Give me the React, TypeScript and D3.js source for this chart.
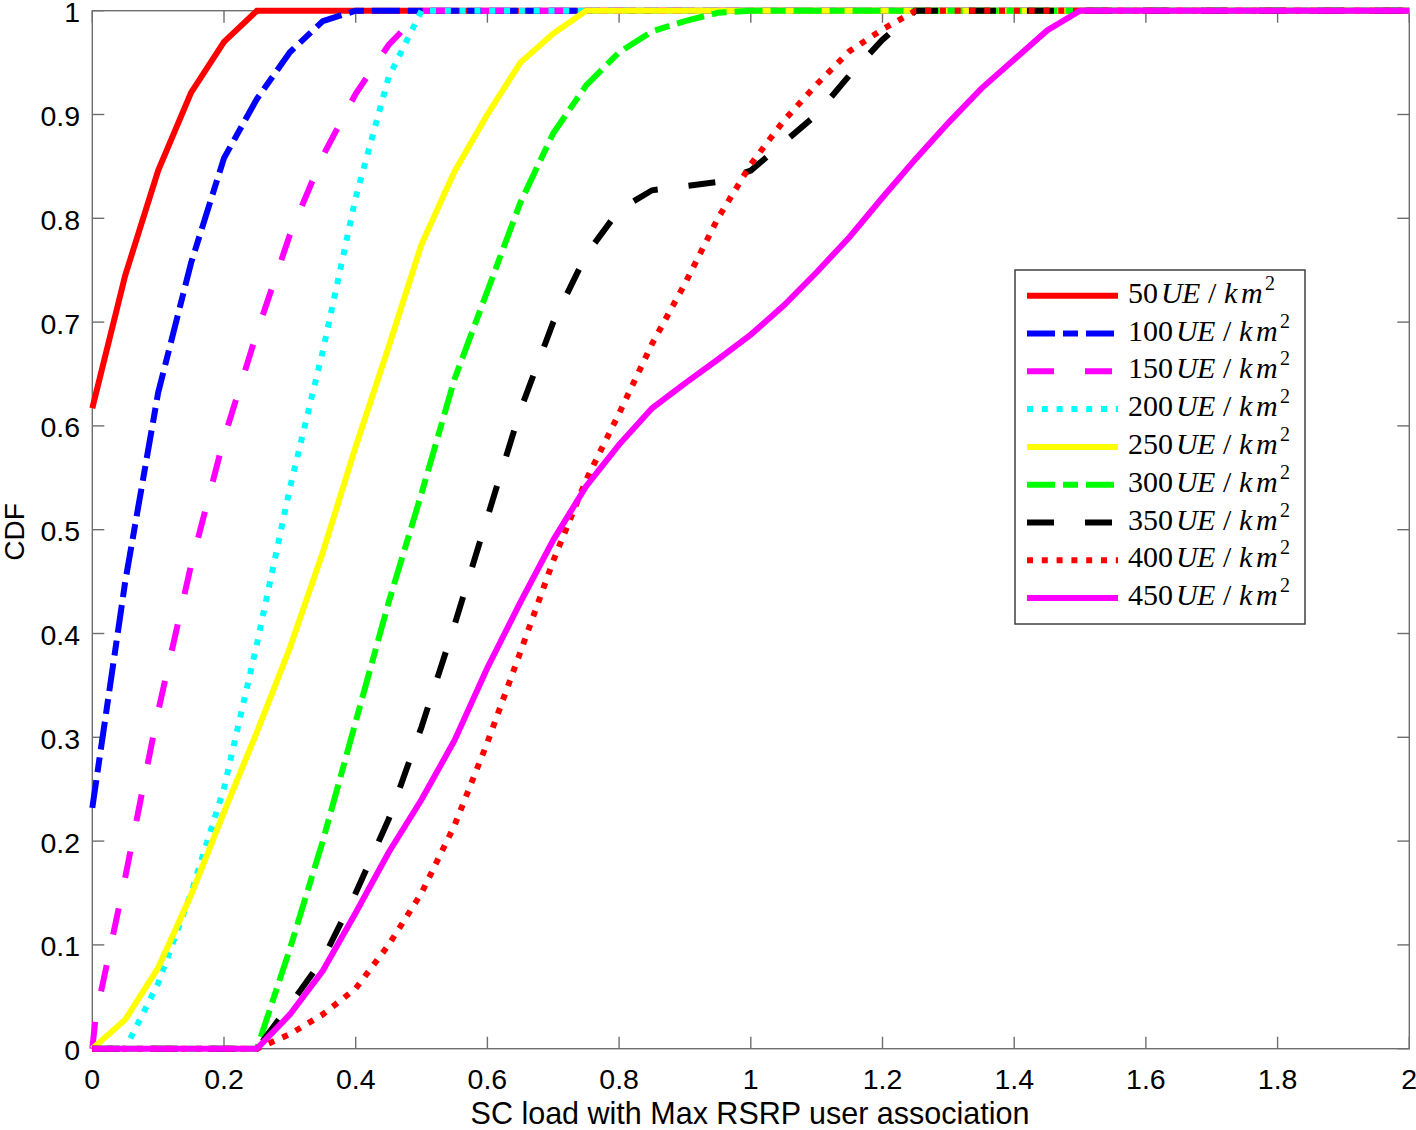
import React from 'react';
import * as d3 from 'd3';

// ---- tick labels ----
const xTickValues = [0, 0.2, 0.4, 0.6, 0.8, 1, 1.2, 1.4, 1.6, 1.8, 2];
const xTickLabels = ['0', '0.2', '0.4', '0.6', '0.8', '1', '1.2', '1.4', '1.6', '1.8', '2'];
const yTickValues = [0, 0.1, 0.2, 0.3, 0.4, 0.5, 0.6, 0.7, 0.8, 0.9, 1];
const yTickLabels = ['0', '0.1', '0.2', '0.3', '0.4', '0.5', '0.6', '0.7', '0.8', '0.9', '1'];

// ---- series (x = SC load, y = CDF) ----
const ue50X = [0, 0.05, 0.1, 0.15, 0.2, 0.25, 2];
const ue50Y = [0.617, 0.745, 0.846, 0.921, 0.97, 1, 1];

const ue100X = [0, 0.05, 0.1, 0.15, 0.2, 0.25, 0.3, 0.35, 0.4, 2];
const ue100Y = [0.232, 0.45, 0.632, 0.757, 0.858, 0.915, 0.96, 0.99, 1, 1];

const ue150X = [0, 0.005, 0.05, 0.1, 0.15, 0.2, 0.25, 0.3, 0.35, 0.4, 0.45, 0.5, 2];
const ue150Y = [0, 0.03, 0.165, 0.325, 0.466, 0.588, 0.69, 0.784, 0.86, 0.92, 0.967, 1, 1];

const ue200X = [0, 0.05, 0.1, 0.15, 0.2, 0.25, 0.3, 0.35, 0.4, 0.45, 0.5, 2];
const ue200Y = [0, 0, 0.063, 0.15, 0.251, 0.39, 0.54, 0.672, 0.82, 0.936, 1, 1];

const ue250X = [0, 0.05, 0.1, 0.15, 0.2, 0.25, 0.3, 0.35, 0.4, 0.45, 0.5, 0.55, 0.6, 0.65, 0.7, 0.75, 2];
const ue250Y = [0, 0.028, 0.078, 0.148, 0.228, 0.305, 0.386, 0.478, 0.58, 0.676, 0.775, 0.845, 0.9, 0.95, 0.978, 1, 1];

const ue300X = [0, 0.25, 0.3, 0.35, 0.4, 0.45, 0.5, 0.55, 0.6, 0.65, 0.7, 0.75, 0.8, 0.85, 0.9, 0.95, 1, 2];
const ue300Y = [0, 0, 0.096, 0.2, 0.315, 0.43, 0.535, 0.645, 0.73, 0.815, 0.882, 0.928, 0.96, 0.98, 0.99, 0.998, 1, 1];

const ue350X = [0, 0.25, 0.3, 0.35, 0.4, 0.45, 0.5, 0.55, 0.6, 0.65, 0.7, 0.75, 0.8, 0.85, 0.9, 0.95, 1, 1.05, 1.1, 1.15, 1.2, 1.25, 2];
const ue350Y = [0, 0, 0.042, 0.086, 0.15, 0.221, 0.31, 0.408, 0.512, 0.615, 0.7, 0.765, 0.808, 0.827, 0.831, 0.835, 0.846, 0.873, 0.9, 0.938, 0.972, 1, 1];

const ue400X = [0, 0.25, 0.3, 0.35, 0.4, 0.45, 0.5, 0.55, 0.6, 0.65, 0.7, 0.75, 0.8, 0.85, 0.9, 0.95, 1, 1.05, 1.1, 1.15, 1.2, 1.25, 2];
const ue400Y = [0, 0, 0.014, 0.033, 0.058, 0.1, 0.15, 0.215, 0.295, 0.382, 0.47, 0.548, 0.612, 0.679, 0.737, 0.8, 0.852, 0.894, 0.929, 0.961, 0.982, 1, 1];

const ue450X = [0, 0.25, 0.3, 0.35, 0.4, 0.45, 0.5, 0.55, 0.6, 0.65, 0.7, 0.75, 0.8, 0.85, 0.9, 0.95, 1, 1.05, 1.1, 1.15, 1.2, 1.25, 1.3, 1.35, 1.4, 1.45, 1.5, 2];
const ue450Y = [0, 0, 0.033, 0.075, 0.131, 0.189, 0.24, 0.297, 0.367, 0.43, 0.49, 0.542, 0.582, 0.617, 0.641, 0.664, 0.688, 0.716, 0.748, 0.782, 0.82, 0.857, 0.892, 0.925, 0.953, 0.981, 1, 1];

const seriesLabels = ['50', '100', '150', '200', '250', '300', '350', '400', '450'];
const seriesColors = ['#ff0000', '#0000ff', '#ff00ff', '#00ffff', '#ffff00', '#00ff00', '#000000', '#ff0000', '#ff00ff'];
const DASHDOT = '28 8 15 8';
const DASHED = '27 31';
const DOTTED = '6 8.8';
const seriesDash = ['', DASHDOT, DASHED, DOTTED, '', DASHDOT, DASHED, DOTTED, ''];
const seriesXs = [ue50X, ue100X, ue150X, ue200X, ue250X, ue300X, ue350X, ue400X, ue450X];
const seriesYs = [ue50Y, ue100Y, ue150Y, ue200Y, ue250Y, ue300Y, ue350Y, ue400Y, ue450Y];

const W = 1416;
const H = 1130;
const LEFT = 92.3;
const RIGHT = 1409.3;
const TOP = 10.7;
const BOTTOM = 1048.7;

const xScale = d3.scaleLinear().domain([0, 2]).range([LEFT, RIGHT]);
const yScale = d3.scaleLinear().domain([0, 1]).range([BOTTOM, TOP]);

const lineGen = d3
  .line<[number, number]>()
  .x((d) => xScale(d[0]))
  .y((d) => yScale(d[1]))
  .curve(d3.curveLinear);

const AXIS_COLOR = '#6e6e6e';
const TICK_LEN = 12;
const SANS = '"Liberation Sans", Arial, Helvetica, sans-serif';
const SERIF = '"Liberation Serif", "Times New Roman", serif';

function LegendLabel({ num, x, y }: { num: string; x: number; y: number }) {
  const u = x + num.length * 15 + 3;
  return (
    <text y={y} fontFamily={SERIF} fontSize={30} fill="#000">
      <tspan x={x}>{num}</tspan>
      <tspan x={u} fontStyle="italic">U</tspan>
      <tspan x={u + 21} fontStyle="italic">E</tspan>
      <tspan x={u + 47}>/</tspan>
      <tspan x={u + 63} fontStyle="italic">k</tspan>
      <tspan x={u + 80} fontStyle="italic">m</tspan>
      <tspan x={u + 104} dy={-13} fontSize={20}>2</tspan>
    </text>
  );
}

export default function App() {
  const series = seriesLabels.map((label, i) => ({
    label,
    color: seriesColors[i],
    dash: seriesDash[i],
    points: seriesXs[i].map((xv, j) => [xv, seriesYs[i][j]] as [number, number]),
  }));

  const legendX = 1015;
  const legendY = 270;
  const legendW = 290;
  const legendH = 354;
  const rowY0 = 295.7;
  const rowStep = 37.8;

  return (
    <svg
      width={W}
      height={H}
      viewBox={`0 0 ${W} ${H}`}
      style={{ position: 'absolute', left: 0, top: 0, background: '#fff' }}
    >
      <rect x={0} y={0} width={W} height={H} fill="#fff" />

      {/* axes box */}
      <rect x={LEFT} y={TOP} width={RIGHT - LEFT} height={BOTTOM - TOP} fill="none" stroke={AXIS_COLOR} strokeWidth={1.4} />

      {/* x ticks (bottom & top, inward) */}
      {xTickValues.map((v, i) => (
        <g key={'xt' + i}>
          <line x1={xScale(v)} x2={xScale(v)} y1={BOTTOM} y2={BOTTOM - TICK_LEN} stroke={AXIS_COLOR} strokeWidth={1.4} />
          <line x1={xScale(v)} x2={xScale(v)} y1={TOP} y2={TOP + TICK_LEN} stroke={AXIS_COLOR} strokeWidth={1.4} />
          <text x={xScale(v)} y={BOTTOM + 40} textAnchor="middle" fontFamily={SANS} fontSize={28.5} fill="#000">
            {xTickLabels[i]}
          </text>
        </g>
      ))}

      {/* y ticks (left & right, inward) */}
      {yTickValues.map((v, i) => (
        <g key={'yt' + i}>
          <line x1={LEFT} x2={LEFT + TICK_LEN} y1={yScale(v)} y2={yScale(v)} stroke={AXIS_COLOR} strokeWidth={1.4} />
          <line x1={RIGHT} x2={RIGHT - TICK_LEN} y1={yScale(v)} y2={yScale(v)} stroke={AXIS_COLOR} strokeWidth={1.4} />
          <text x={80} y={yScale(v) + 11.5} textAnchor="end" fontFamily={SANS} fontSize={28.5} fill="#000">
            {yTickLabels[i]}
          </text>
        </g>
      ))}

      {/* data lines */}
      {series.map((s, i) => (
        <path
          key={'s' + i}
          d={lineGen(s.points) || ''}
          fill="none"
          stroke={s.color}
          strokeWidth={6}
          strokeDasharray={s.dash || undefined}
          strokeLinecap="butt"
          strokeLinejoin="miter"
        />
      ))}

      {/* axis labels */}
      <text x={750} y={1124} textAnchor="middle" fontFamily={SANS} fontSize={30.5} fill="#000">
        SC load with Max RSRP user association
      </text>
      <text
        transform={`translate(24, 532) rotate(-90)`}
        textAnchor="middle"
        fontFamily={SANS}
        fontSize={28}
        fill="#000"
      >
        CDF
      </text>

      {/* legend */}
      <rect x={legendX} y={legendY} width={legendW} height={legendH} fill="#fff" stroke="#404040" strokeWidth={1.5} />
      {series.map((s, i) => {
        const y = rowY0 + rowStep * i;
        return (
          <g key={'lg' + i}>
            <line
              x1={1027}
              x2={1118}
              y1={y}
              y2={y}
              stroke={s.color}
              strokeWidth={6}
              strokeDasharray={s.dash || undefined}
              strokeLinecap="butt"
            />
            <LegendLabel num={s.label} x={1128} y={y + 7} />
          </g>
        );
      })}
    </svg>
  );
}
